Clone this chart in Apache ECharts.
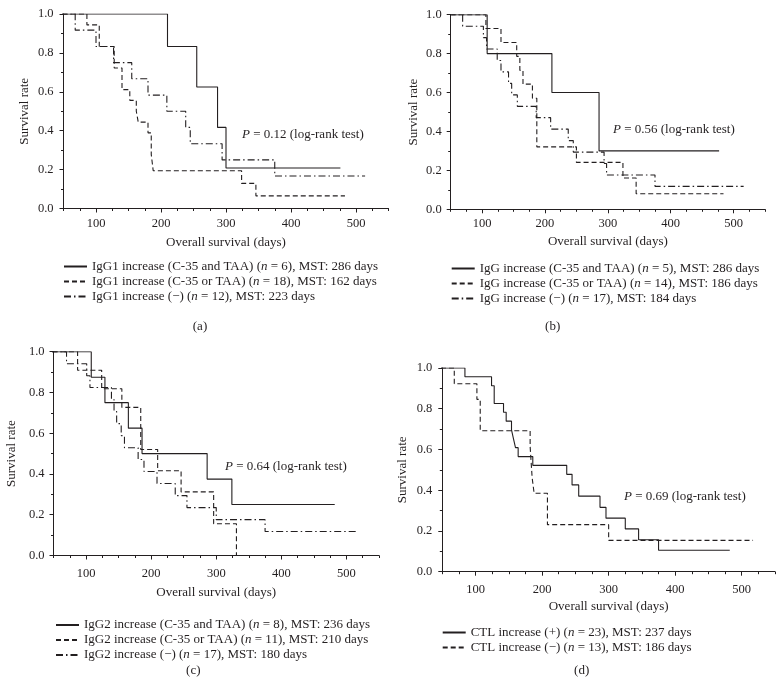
<!DOCTYPE html>
<html><head><meta charset="utf-8">
<script src="https://cdn.jsdelivr.net/npm/echarts@6/dist/echarts.min.js"></script>
<style>html,body{margin:0;padding:0;background:#fff}#c{width:784px;height:688px}</style>
</head><body><div id="c"></div>
<script>
// ---------- data ----------
const xMajorTicks = [100, 200, 300, 400, 500];
const yLabelFmt = v => v.toFixed(1);

const aNames = [
  'IgG1 increase (C-35 and TAA) (n = 6), MST: 286 days',
  'IgG1 increase (C-35 or TAA) (n = 18), MST: 162 days',
  'IgG1 increase (\u2212) (n = 12), MST: 223 days'
];
const aSolid = [[0,1],[210,0.833],[255,0.625],[287,0.417],[300,0.208],[476,0.208]];
const aDashed = [[0,1],[86,0.944],[105,0.833],[128,0.722],[140,0.611],[152,0.556],[162,0.5],[165,0.444],[180,0.389],[185,0.278],[188,0.194],[324,0.129],[346,0.065],[483,0.065]];
const aDashDot = [[0,1],[68,0.917],[100,0.833],[127,0.75],[155,0.667],[180,0.583],[209,0.5],[238,0.417],[245,0.333],[294,0.25],[375,0.167],[514,0.167]];
const aP = '0.12';

const bNames = [
  'IgG increase (C-35 and TAA) (n = 5), MST: 286 days',
  'IgG increase (C-35 or TAA) (n = 14), MST: 186 days',
  'IgG increase (\u2212) (n = 17), MST: 184 days'
];
const bSolid = [[0,1],[108,0.8],[211,0.6],[286,0.3],[477,0.3]];
const bDashed = [[0,1],[106,0.929],[130,0.857],[155,0.786],[160,0.714],[165,0.643],[180,0.571],[187,0.321],[250,0.241],[324,0.161],[345,0.08],[484,0.08]];
const bDashDot = [[0,1],[69,0.941],[102,0.882],[107,0.824],[124,0.765],[130,0.706],[142,0.647],[147,0.588],[156,0.529],[186,0.471],[209,0.412],[237,0.353],[245,0.294],[294,0.235],[298,0.176],[375,0.118],[516,0.118]];
const bP = '0.56';

const cNames = [
  'IgG2 increase (C-35 and TAA) (n = 8), MST: 236 days',
  'IgG2 increase (C-35 or TAA) (n = 11), MST: 210 days',
  'IgG2 increase (\u2212) (n = 17), MST: 180 days'
];
const cSolid = [[0,1],[108,0.875],[129,0.75],[165,0.625],[186,0.5],[286,0.375],[324,0.25],[482,0.25]];
const cDashed = [[0,1],[87,0.909],[124,0.818],[155,0.727],[184,0.52],[210,0.416],[246,0.312],[296,0.156],[331,0]];
const cDashDot = [[0,1],[70,0.941],[101,0.882],[106,0.824],[139,0.765],[143,0.706],[147,0.647],[154,0.588],[159,0.529],[180,0.471],[189,0.412],[209,0.353],[237,0.294],[255,0.235],[300,0.176],[375,0.118],[518,0.118]];
const cP = '0.64';

const dNames = [
  'CTL increase (+) (n = 23), MST: 237 days',
  'CTL increase (\u2212) (n = 13), MST: 186 days'
];
const dSolid = [[0,1],[84,0.957],[124,0.913],[128,0.826],[142,0.783],[146,0.739],[154,0.696],[157,0.652],[160,0.609],[164,0.565],[186,0.522],[237,0.478],[245,0.426],[255,0.371],[287,0.316],[296,0.263],[325,0.21],[345,0.157],[375,0.105],[482,0.105]];
const dDashed = [[0,1],[68,0.923],[102,0.846],[107,0.692],[182,0.615],[185,0.462],[188,0.385],[208,0.231],[300,0.154],[517,0.154]];
const dP = '0.69';

const panelLabels = ['(a)', '(b)', '(c)', '(d)'];
const xTitle = 'Overall survival (days)';
const yTitle = 'Survival rate';

// ---------- styles / layout ----------
const INK = '#231f20';
const FONT = "'Liberation Serif', 'DejaVu Serif', serif";
const STYLES = {
  solid: 'solid',
  dashed: [5, 3],
  dashdot: [7, 3, 1.5, 3]
};

const panels = [
  { grid:{left:63.5, top:14, width:325, height:194.5}, xMargin:9, xGap:28, yMargin:10, yGap:32,
    names:aNames, data:[aSolid,aDashed,aDashDot], styles:['solid','dashed','dashdot'], p:aP,
    pPos:[242,135], legend:{left:63,top:259}, label:[200,327] },
  { grid:{left:450.7, top:14.7, width:314.3, height:194.6}, xMargin:8, xGap:26, yMargin:9, yGap:31,
    names:bNames, data:[bSolid,bDashed,bDashDot], styles:['solid','dashed','dashdot'], p:bP,
    pPos:[613,130], legend:{left:450.7,top:261}, label:[552.7,327] },
  { grid:{left:53.5, top:351.7, width:325.5, height:203.8}, xMargin:12, xGap:31, yMargin:9, yGap:35,
    names:cNames, data:[cSolid,cDashed,cDashDot], styles:['solid','dashed','dashdot'], p:cP,
    pPos:[225,467], legend:{left:55,top:617.5}, label:[193.3,671] },
  { grid:{left:442.3, top:368, width:332.7, height:203.7}, xMargin:12, xGap:28, yMargin:10, yGap:33,
    names:dNames, data:[dSolid,dDashed], styles:['solid','dashed'], p:dP,
    pPos:[624,497], legend:{left:441.7,top:625}, label:[581.7,671] }
];

const lineCol = {color: INK, width: 1};
const grid = [], xAxis = [], yAxis = [], series = [], legend = [], graphic = [];

panels.forEach((pn, i) => {
  grid.push(Object.assign({containLabel:false}, pn.grid));
  // major x axis
  xAxis.push({
    gridIndex:i, type:'value', min:50, max:550, position:'bottom',
    axisLine:{show:true, onZero:false, lineStyle:lineCol},
    axisTick:{show:true, customValues:xMajorTicks, length:4, inside:false, lineStyle:lineCol},
    axisLabel:{customValues:xMajorTicks, margin:pn.xMargin, fontFamily:FONT, fontSize:12.5, color:INK},
    splitLine:{show:false},
    name:xTitle, nameLocation:'middle', nameGap:pn.xGap,
    nameTextStyle:{fontFamily:FONT, fontSize:13, color:INK}
  });
  // minor x ticks
  xAxis.push({
    gridIndex:i, type:'value', min:50, max:550, interval:25, position:'bottom',
    axisLine:{show:false, onZero:false},
    axisTick:{show:true, length:2.5, lineStyle:lineCol},
    axisLabel:{show:false}, splitLine:{show:false}
  });
  // major y axis
  yAxis.push({
    gridIndex:i, type:'value', min:0, max:1, interval:0.2, position:'left',
    axisLine:{show:true, onZero:false, lineStyle:lineCol},
    axisTick:{show:true, length:4, lineStyle:lineCol},
    axisLabel:{formatter:yLabelFmt, margin:pn.yMargin, fontFamily:FONT, fontSize:12.5, color:INK},
    splitLine:{show:false},
    name:yTitle, nameLocation:'middle', nameGap:pn.yGap,
    nameTextStyle:{fontFamily:FONT, fontSize:13, color:INK}
  });
  // minor y ticks
  yAxis.push({
    gridIndex:i, type:'value', min:0, max:1, interval:0.1, position:'left',
    axisLine:{show:false, onZero:false},
    axisTick:{show:true, length:2.5, lineStyle:lineCol},
    axisLabel:{show:false}, splitLine:{show:false}
  });

  pn.data.forEach((d, k) => {
    series.push({
      name: pn.names[k], type:'line', xAxisIndex:2*i, yAxisIndex:2*i,
      data:d, step:'end', symbol:'none', showSymbol:false, clip:true,
      lineStyle:{color:INK, width:1.1, type:STYLES[pn.styles[k]]},
      itemStyle:{color:INK}, silent:true, animation:false
    });
  });

  legend.push({
    data: pn.names, left: pn.legend.left, top: pn.legend.top, orient:'vertical',
    padding:0, itemGap:0, itemWidth:23, itemHeight:10, selectedMode:false,
    itemStyle:{opacity:0},
    formatter: function(name){
      const k = name.indexOf('(n = ');
      return '{r|' + name.slice(0, k + 1) + '}{i|n}{r|' + name.slice(k + 2) + '}';
    },
    textStyle:{
      color:INK, fontFamily:FONT, fontSize:13, lineHeight:15,
      rich:{
        r:{fontFamily:FONT, fontSize:13, color:INK, lineHeight:15},
        i:{fontFamily:FONT, fontSize:13, color:INK, fontStyle:'italic', lineHeight:15}
      }
    }
  });

  graphic.push({
    type:'text', x:pn.pPos[0], y:pn.pPos[1], silent:true,
    style:{
      text:'{i|P}{r| = ' + pn.p + ' (log-rank test)}',
      verticalAlign:'middle', align:'left',
      rich:{
        r:{fontFamily:FONT, fontSize:13, fill:INK},
        i:{fontFamily:FONT, fontSize:13, fill:INK, fontStyle:'italic'}
      }
    }
  });
  graphic.push({
    type:'text', x:pn.label[0], y:pn.label[1], silent:true,
    style:{text:panelLabels[i], align:'center', verticalAlign:'middle',
      fontFamily:FONT, fontSize:13, fill:INK}
  });
});

const chart = echarts.init(document.getElementById('c'), null, {renderer:'canvas'});
chart.setOption({
  animation:false,
  backgroundColor:'#fff',
  grid, xAxis, yAxis, series, legend, graphic
});
</script>
</body></html>
